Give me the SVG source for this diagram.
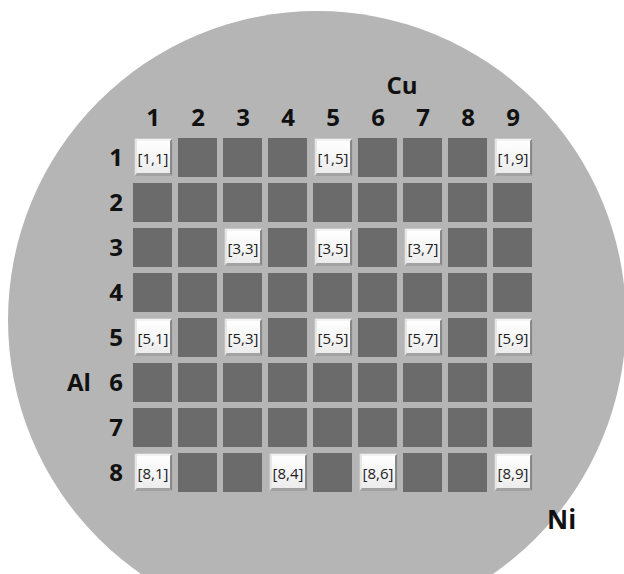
<svg xmlns="http://www.w3.org/2000/svg" xmlns:xlink="http://www.w3.org/1999/xlink" width="624" height="574" viewBox="0 0 624 574">
<style>
.dk{fill:#6b6b6b}
.lbl{font-family:"Open Sans","Noto Sans","Liberation Sans",sans-serif;font-weight:bold;font-size:24px;fill:#111}
.cl{text-anchor:middle}
.rl{text-anchor:end}
.ct{font-family:"Open Sans","Noto Sans","Liberation Sans",sans-serif;font-size:15px;fill:#222;text-anchor:middle}
</style>
<defs>
<linearGradient id="face" x1="0" y1="0" x2="0" y2="1">
<stop offset="0" stop-color="#ffffff"/>
<stop offset="1" stop-color="#ececec"/>
</linearGradient>
<rect id="dark" class="dk" width="39" height="39"/>
<g id="white">
<rect width="39" height="39" fill="#c8c8c8"/>
<polygon points="0,0 39,0 36,3 3,3" fill="#f2f2f2"/>
<polygon points="0,0 3,3 3,35 0,39" fill="#e6e6e6"/>
<polygon points="39,0 39,39 35,35 36,3" fill="#888888"/>
<polygon points="0,39 39,39 35,35 3,35" fill="#a2a2a2"/>
<rect x="3" y="3" width="33" height="32" fill="url(#face)"/>
<rect x="0.4" y="0.4" width="38.2" height="38.2" fill="none" stroke="#bbbbbb" stroke-width="0.8"/>
</g>
</defs>
<rect width="624" height="574" fill="#ffffff"/>
<circle id="wafer" cx="317" cy="320" r="309" fill="#b5b5b5"/>
<g id="axis-labels">
<text class="lbl" x="402" y="94" text-anchor="middle">Cu</text>
<text class="lbl" x="67" y="391">Al</text>
<text class="lbl" x="547" y="529" style="font-size:26px">Ni</text>
</g>
<g id="col-labels" class="lbl cl">
<text x="153" y="126">1</text><text x="198" y="126">2</text><text x="243" y="126">3</text><text x="288" y="126">4</text><text x="333" y="126">5</text><text x="378" y="126">6</text><text x="423" y="126">7</text><text x="468" y="126">8</text><text x="513" y="126">9</text>
</g>
<g id="row-labels" class="lbl rl">
<text x="123" y="166">1</text><text x="123" y="211">2</text><text x="123" y="256">3</text><text x="123" y="301">4</text><text x="123" y="346">5</text><text x="123" y="391">6</text><text x="123" y="436">7</text><text x="123" y="481">8</text>
</g>
<g id="cells">
<g id="c1-1"><use href="#white" x="134" y="138"/><text class="ct" x="153" y="164">[1,1]</text></g>
<g id="c1-2"><use href="#dark" x="178" y="138"/></g>
<g id="c1-3"><use href="#dark" x="223" y="138"/></g>
<g id="c1-4"><use href="#dark" x="268" y="138"/></g>
<g id="c1-5"><use href="#white" x="314" y="138"/><text class="ct" x="333" y="164">[1,5]</text></g>
<g id="c1-6"><use href="#dark" x="358" y="138"/></g>
<g id="c1-7"><use href="#dark" x="403" y="138"/></g>
<g id="c1-8"><use href="#dark" x="448" y="138"/></g>
<g id="c1-9"><use href="#white" x="494" y="138"/><text class="ct" x="513" y="164">[1,9]</text></g>

<g id="c2-1"><use href="#dark" x="133" y="183"/></g>
<g id="c2-2"><use href="#dark" x="178" y="183"/></g>
<g id="c2-3"><use href="#dark" x="223" y="183"/></g>
<g id="c2-4"><use href="#dark" x="268" y="183"/></g>
<g id="c2-5"><use href="#dark" x="313" y="183"/></g>
<g id="c2-6"><use href="#dark" x="358" y="183"/></g>
<g id="c2-7"><use href="#dark" x="403" y="183"/></g>
<g id="c2-8"><use href="#dark" x="448" y="183"/></g>
<g id="c2-9"><use href="#dark" x="493" y="183"/></g>

<g id="c3-1"><use href="#dark" x="133" y="228"/></g>
<g id="c3-2"><use href="#dark" x="178" y="228"/></g>
<g id="c3-3"><use href="#white" x="224" y="228"/><text class="ct" x="243" y="254">[3,3]</text></g>
<g id="c3-4"><use href="#dark" x="268" y="228"/></g>
<g id="c3-5"><use href="#white" x="314" y="228"/><text class="ct" x="333" y="254">[3,5]</text></g>
<g id="c3-6"><use href="#dark" x="358" y="228"/></g>
<g id="c3-7"><use href="#white" x="404" y="228"/><text class="ct" x="423" y="254">[3,7]</text></g>
<g id="c3-8"><use href="#dark" x="448" y="228"/></g>
<g id="c3-9"><use href="#dark" x="493" y="228"/></g>

<g id="c4-1"><use href="#dark" x="133" y="273"/></g>
<g id="c4-2"><use href="#dark" x="178" y="273"/></g>
<g id="c4-3"><use href="#dark" x="223" y="273"/></g>
<g id="c4-4"><use href="#dark" x="268" y="273"/></g>
<g id="c4-5"><use href="#dark" x="313" y="273"/></g>
<g id="c4-6"><use href="#dark" x="358" y="273"/></g>
<g id="c4-7"><use href="#dark" x="403" y="273"/></g>
<g id="c4-8"><use href="#dark" x="448" y="273"/></g>
<g id="c4-9"><use href="#dark" x="493" y="273"/></g>

<g id="c5-1"><use href="#white" x="134" y="318"/><text class="ct" x="153" y="344">[5,1]</text></g>
<g id="c5-2"><use href="#dark" x="178" y="318"/></g>
<g id="c5-3"><use href="#white" x="224" y="318"/><text class="ct" x="243" y="344">[5,3]</text></g>
<g id="c5-4"><use href="#dark" x="268" y="318"/></g>
<g id="c5-5"><use href="#white" x="314" y="318"/><text class="ct" x="333" y="344">[5,5]</text></g>
<g id="c5-6"><use href="#dark" x="358" y="318"/></g>
<g id="c5-7"><use href="#white" x="404" y="318"/><text class="ct" x="423" y="344">[5,7]</text></g>
<g id="c5-8"><use href="#dark" x="448" y="318"/></g>
<g id="c5-9"><use href="#white" x="494" y="318"/><text class="ct" x="513" y="344">[5,9]</text></g>

<g id="c6-1"><use href="#dark" x="133" y="363"/></g>
<g id="c6-2"><use href="#dark" x="178" y="363"/></g>
<g id="c6-3"><use href="#dark" x="223" y="363"/></g>
<g id="c6-4"><use href="#dark" x="268" y="363"/></g>
<g id="c6-5"><use href="#dark" x="313" y="363"/></g>
<g id="c6-6"><use href="#dark" x="358" y="363"/></g>
<g id="c6-7"><use href="#dark" x="403" y="363"/></g>
<g id="c6-8"><use href="#dark" x="448" y="363"/></g>
<g id="c6-9"><use href="#dark" x="493" y="363"/></g>

<g id="c7-1"><use href="#dark" x="133" y="408"/></g>
<g id="c7-2"><use href="#dark" x="178" y="408"/></g>
<g id="c7-3"><use href="#dark" x="223" y="408"/></g>
<g id="c7-4"><use href="#dark" x="268" y="408"/></g>
<g id="c7-5"><use href="#dark" x="313" y="408"/></g>
<g id="c7-6"><use href="#dark" x="358" y="408"/></g>
<g id="c7-7"><use href="#dark" x="403" y="408"/></g>
<g id="c7-8"><use href="#dark" x="448" y="408"/></g>
<g id="c7-9"><use href="#dark" x="493" y="408"/></g>

<g id="c8-1"><use href="#white" x="134" y="453"/><text class="ct" x="153" y="479">[8,1]</text></g>
<g id="c8-2"><use href="#dark" x="178" y="453"/></g>
<g id="c8-3"><use href="#dark" x="223" y="453"/></g>
<g id="c8-4"><use href="#white" x="269" y="453"/><text class="ct" x="288" y="479">[8,4]</text></g>
<g id="c8-5"><use href="#dark" x="313" y="453"/></g>
<g id="c8-6"><use href="#white" x="359" y="453"/><text class="ct" x="378" y="479">[8,6]</text></g>
<g id="c8-7"><use href="#dark" x="403" y="453"/></g>
<g id="c8-8"><use href="#dark" x="448" y="453"/></g>
<g id="c8-9"><use href="#white" x="494" y="453"/><text class="ct" x="513" y="479">[8,9]</text></g>
</g>
<g id="connectors"/>
</svg>
